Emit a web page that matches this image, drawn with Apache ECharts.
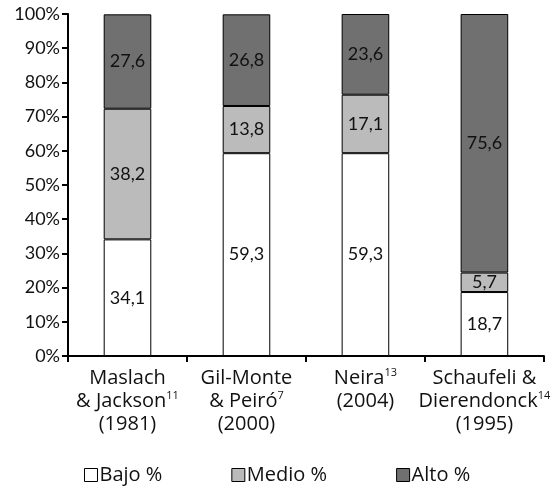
<!DOCTYPE html>
<html>
<head>
<meta charset="utf-8">
<script src="https://cdn.jsdelivr.net/npm/echarts@6/dist/echarts.min.js"></script>
<style>
  html, body { margin: 0; padding: 0; background: #fff; }
  #main { width: 553px; height: 486px; }
</style>
</head>
<body>
<div id="main"></div>
<script>
var categories = [
    'Maslach\n& Jackson{sup|11}\n(1981)',
    'Gil-Monte\n& Peiró{sup|7}\n(2000)',
    'Neira{sup|13}\n(2004)',
    'Schaufeli &\nDierendonck{sup|14}\n(1995)'
];
var bajo = [34.1, 59.3, 59.3, 18.7];
var medio = [38.2, 13.8, 17.1, 5.7];
var alto = [27.6, 26.8, 23.6, 75.6];
var seriesNames = ['Bajo %', 'Medio %', 'Alto %'];
var colors = ['#ffffff', '#bbbbbb', '#707070'];

var fontFam = 'Lato, "Open Sans", sans-serif';
var wideFam = '"Open Sans", Lato, sans-serif';

function makeSeries(name, data, color) {
    return {
        name: name,
        type: 'bar',
        stack: 'total',
        barWidth: '40%',
        data: data,
        itemStyle: { color: color, borderColor: '#000', borderWidth: 1 },
        label: {
            show: true,
            position: 'inside',
            color: '#111',
            fontSize: 18,
            fontFamily: fontFam,
            formatter: function (p) { return String(p.value).replace('.', ','); }
        }
    };
}

var myChart = echarts.init(document.getElementById('main'));
var option = {
    animation: false,
    textStyle: { fontFamily: fontFam },
    grid: { left: 68, right: 7, top: 14, bottom: 130 },
    legend: {
        top: 460,
        left: 79,
        itemWidth: 13,
        itemHeight: 13,
        itemGap: 69,
        icon: 'rect',
        data: seriesNames,
        itemStyle: { borderColor: '#000', borderWidth: 1 },
        textStyle: { fontSize: 20, color: '#111', fontFamily: wideFam, padding: [0, 0, 0, -3] }
    },
    xAxis: {
        type: 'category',
        data: categories,
        axisLine: { lineStyle: { color: '#000', width: 2 } },
        axisTick: { show: true, length: 6, lineStyle: { color: '#000', width: 2 } },
        axisLabel: {
            interval: 0,
            color: '#111',
            fontSize: 20,
            lineHeight: 23,
            margin: 11,
            fontFamily: wideFam,
            rich: {
                sup: { fontSize: 11, fontFamily: wideFam, verticalAlign: 'top', padding: [0, 0, 8, 0], color: '#111' }
            }
        }
    },
    yAxis: {
        type: 'value',
        min: 0,
        max: 100,
        interval: 10,
        splitLine: { show: false },
        axisLine: { show: true, lineStyle: { color: '#000', width: 2 } },
        axisTick: { show: true, length: 6, lineStyle: { color: '#000', width: 2 } },
        axisLabel: {
            color: '#111',
            fontSize: 18,
            margin: 8,
            fontFamily: fontFam,
            formatter: '{value}%'
        }
    },
    series: [
        makeSeries(seriesNames[0], bajo, colors[0]),
        makeSeries(seriesNames[1], medio, colors[1]),
        makeSeries(seriesNames[2], alto, colors[2])
    ]
};
myChart.setOption(option);
</script>
</body>
</html>
